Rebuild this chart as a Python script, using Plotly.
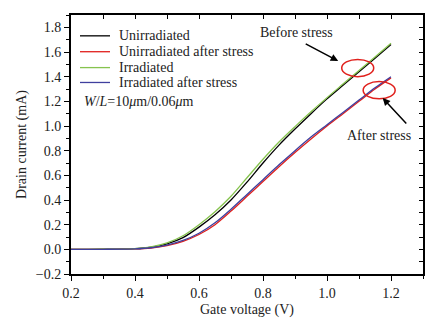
import plotly.graph_objects as go

# Gate voltage (V)
vg = [0.18, 0.2, 0.3, 0.4, 0.45, 0.5, 0.55, 0.6, 0.65, 0.7, 0.75, 0.8, 0.85, 0.9, 0.95, 1.0, 1.05, 1.1, 1.15, 1.2]

# Drain current (mA)
unirr = [0, 0, 0.0005, 0.005, 0.017, 0.045, 0.095, 0.18, 0.28, 0.40, 0.545, 0.70, 0.845, 0.975, 1.10, 1.22, 1.33, 1.44, 1.55, 1.66]
unirr_stress = [0, 0, 0.0003, 0.003, 0.011, 0.03, 0.065, 0.12, 0.20, 0.31, 0.43, 0.55, 0.67, 0.785, 0.895, 1.0, 1.10, 1.20, 1.30, 1.39]
irr = [0, 0, 0.0006, 0.006, 0.02, 0.052, 0.11, 0.20, 0.305, 0.43, 0.58, 0.73, 0.87, 0.995, 1.115, 1.23, 1.34, 1.45, 1.56, 1.67]
irr_stress = [0, 0, 0.0004, 0.004, 0.013, 0.035, 0.072, 0.13, 0.215, 0.325, 0.445, 0.565, 0.685, 0.80, 0.91, 1.01, 1.11, 1.21, 1.31, 1.40]

names = ["Unirradiated", "Unirradiated after stress", "Irradiated", "Irradiated after stress"]
colors = ["#000000", "#e0201c", "#86c34e", "#3f3f9e"]
series = [unirr, unirr_stress, irr, irr_stress]

FONT = "Liberation Serif"
TXT = "#222"
FS = 14

fig = go.Figure()
for n, c, s in zip(names, colors, series):
    fig.add_trace(go.Scatter(x=vg, y=s, mode="lines", name=n, showlegend=False,
                             line=dict(color=c, width=1.3, shape="spline", smoothing=0.8)))

# invisible trace for mirrored axes
fig.add_trace(go.Scatter(x=[0.2], y=[0], xaxis="x2", yaxis="y2", mode="markers",
                         marker=dict(opacity=0), showlegend=False, hoverinfo="skip"))

line_common = dict(showgrid=False, zeroline=False, showline=True, linecolor="black",
                   linewidth=2, tickcolor="black", tickwidth=1.2)
tickfont = dict(family=FONT, size=FS, color=TXT)

fig.update_layout(
    width=439, height=327,
    margin=dict(l=71, r=16, t=15, b=51),
    paper_bgcolor="white", plot_bgcolor="white",
    font=dict(family=FONT, color=TXT),
    xaxis=dict(range=[0.2, 1.3], dtick=0.2, tickformat=".1f", ticks="outside", ticklen=5,
               minor=dict(dtick=0.1, ticklen=3, ticks="outside", tickcolor="black"),
               tickfont=tickfont,
               title=dict(text="Gate voltage (V)", font=dict(family=FONT, size=FS), standoff=4),
               **line_common),
    yaxis=dict(range=[-0.2, 1.9], dtick=0.2, tickformat=".1f", ticks="outside", ticklen=5,
               minor=dict(dtick=0.1, ticklen=3, ticks="outside", tickcolor="black"),
               tickfont=tickfont,
               title=dict(text="Drain current (mA)", font=dict(family=FONT, size=FS), standoff=6),
               **line_common),
    xaxis2=dict(range=[0.2, 1.3], overlaying="x", side="top", dtick=0.1, ticks="inside",
                ticklen=4, showticklabels=False, **line_common),
    yaxis2=dict(range=[-0.2, 1.9], overlaying="y", side="right", dtick=0.1, ticks="inside",
                ticklen=4, showticklabels=False, **line_common),
    showlegend=False,
)

# Manual legend (compact spacing as in the reference)
leg_y = [36, 52, 68, 83]
for i, (n, c) in enumerate(zip(names, colors)):
    fig.add_shape(type="line", xref="paper", yref="paper",
                  x0=(80 - 71) / 352, x1=(110 - 71) / 352,
                  y0=(276 - leg_y[i]) / 261, y1=(276 - leg_y[i]) / 261,
                  line=dict(color=c, width=1.3))
    fig.add_annotation(xref="paper", yref="paper", x=(117 - 71) / 352, y=(276 - leg_y[i]) / 261,
                       xanchor="left", yanchor="middle", text=n, showarrow=False,
                       font=dict(family=FONT, size=FS, color=TXT))

# Ellipses
fig.add_shape(type="circle", xref="x", yref="y", x0=1.046, x1=1.146, y0=1.40, y1=1.54,
              line=dict(color="#e0201c", width=1.5))
fig.add_shape(type="circle", xref="x", yref="y", x0=1.113, x1=1.213, y0=1.22, y1=1.36,
              line=dict(color="#e0201c", width=1.5))

# Arrows and labels
fig.add_annotation(x=1.035, y=1.527, xref="x", yref="y", ax=-34, ay=-18, text="",
                   showarrow=True, arrowhead=2, arrowsize=1, arrowwidth=1.5, arrowcolor="black")
fig.add_annotation(x=1.174, y=1.227, xref="x", yref="y", ax=25, ay=27, text="",
                   showarrow=True, arrowhead=2, arrowsize=1, arrowwidth=1.5, arrowcolor="black")
fig.add_annotation(x=(296.7 - 71) / 320 + 0.2, y=(251 - 32) / 124.4, xref="x", yref="y",
                   text="Before stress", showarrow=False, font=dict(family=FONT, size=FS, color=TXT))
fig.add_annotation(x=(379 - 71) / 320 + 0.2, y=(251 - 135.7) / 124.4, xref="x", yref="y",
                   text="After stress", showarrow=False, font=dict(family=FONT, size=FS, color=TXT))
fig.add_annotation(x=(82 - 71) / 320 + 0.2, y=(251 - 102) / 124.4, xref="x", yref="y",
                   xanchor="left", text="<i>W</i>/<i>L</i>=10<i>μ</i>m/0.06<i>μ</i>m",
                   showarrow=False, font=dict(family=FONT, size=FS, color=TXT))

fig.write_html("out.html")
